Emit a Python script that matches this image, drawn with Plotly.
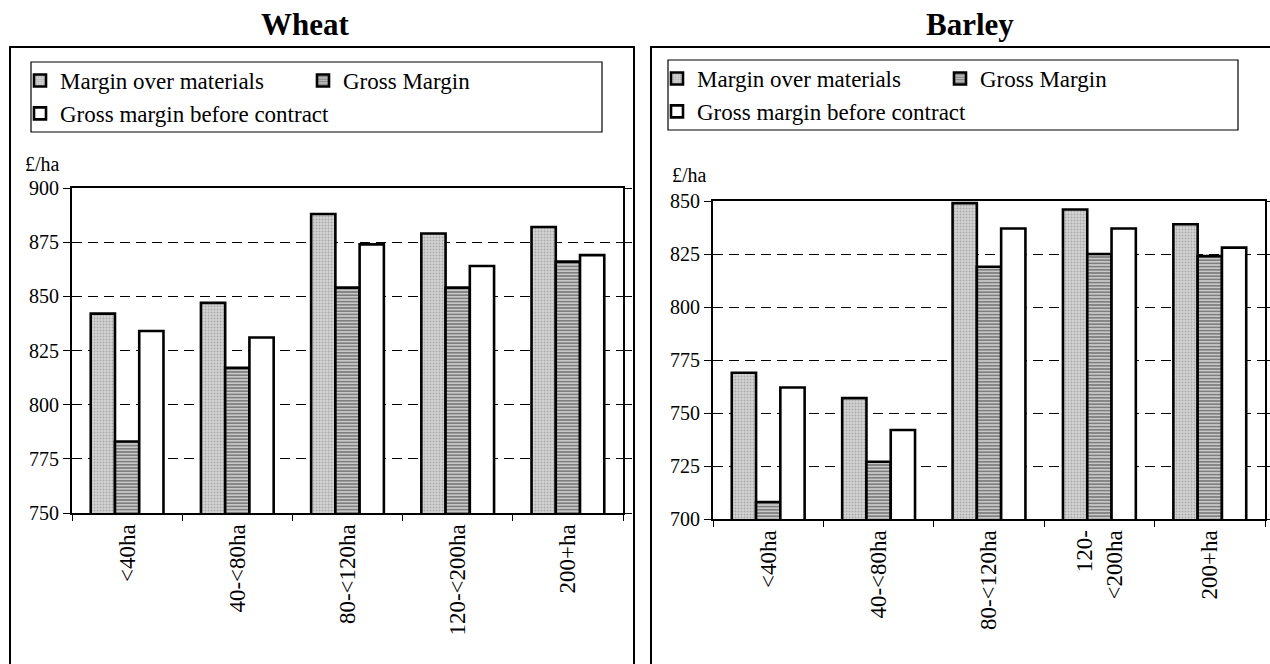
import plotly.graph_objects as go

# Farm size bands (categories shared by both crops)
size_bands = ["<40ha", "40-<80ha", "80-<120ha", "120-<200ha", "200+ha"]
wheat_tick_labels = ["<40ha", "40-<80ha", "80-<120ha", "120-<200ha", "200+ha"]
barley_tick_labels = ["<40ha", "40-<80ha", "80-<120ha", "120-<br><200ha", "200+ha"]

# Wheat, £/ha
wheat_margin_over_materials = [842, 847, 888, 879, 882]
wheat_gross_margin = [783, 817, 854, 854, 866]
wheat_gm_before_contract = [834, 831, 874, 864, 869]

# Barley, £/ha
barley_margin_over_materials = [769, 757, 849, 846, 839]
barley_gross_margin = [708, 727, 819, 825, 824]
barley_gm_before_contract = [762, 742, 837, 837, 828]

wheat_yticks = [750, 775, 800, 825, 850, 875, 900]
barley_yticks = [700, 725, 750, 775, 800, 825, 850]

W, H = 1270, 664
SERIF = "Liberation Serif, Times New Roman, serif"


def px(x):
    return x / W


def py(y):
    return 1 - y / H


series_styles = {
    "Margin over materials": dict(
        color="#cccccc",
        pattern=dict(shape=".", fgcolor="#7a7a7a", bgcolor="#d4d4d4", size=3, solidity=0.3),
    ),
    "Gross Margin": dict(
        color="#eeeeee",
        pattern=dict(shape="-", fgcolor="#0a0a0a", bgcolor="#f2f2f2", size=3.2, solidity=0.68),
    ),
    "Gross margin before contract": dict(color="white"),
}
# two legend columns: first column holds the 1st and 3rd series
legend_groups = {
    "Margin over materials": "a",
    "Gross Margin": "b",
    "Gross margin before contract": "a",
}

fig = go.Figure()


def add_crop(values, xaxis, yaxis, legend, prefix):
    names = ["Margin over materials", "Gross Margin", "Gross margin before contract"]
    for name, vals in zip(names, values):
        style = series_styles[name]
        marker = dict(color=style["color"], line=dict(color="black", width=2.6))
        if "pattern" in style:
            marker["pattern"] = style["pattern"]
        fig.add_trace(
            go.Bar(
                x=size_bands,
                y=vals,
                name=name,
                marker=marker,
                xaxis=xaxis,
                yaxis=yaxis,
                legend=legend,
                legendgroup=prefix + legend_groups[name],
                legendwidth=238,
            )
        )


add_crop(
    [wheat_margin_over_materials, wheat_gross_margin, wheat_gm_before_contract],
    "x", "y", "legend", "w",
)
add_crop(
    [barley_margin_over_materials, barley_gross_margin, barley_gm_before_contract],
    "x2", "y2", "legend2", "b",
)

xaxis_common = dict(
    type="category",
    showline=True,
    linecolor="black",
    linewidth=2,
    mirror=True,
    ticks="outside",
    tickson="boundaries",
    ticklen=6,
    tickcolor="black",
    tickangle=-90,
    ticklabelstandoff=0,
    tickfont=dict(family=SERIF, size=23, color="black"),
    showgrid=False,
    automargin=False,
    fixedrange=True,
)
yaxis_common = dict(
    showline=True,
    linecolor="black",
    linewidth=2,
    mirror="ticks",
    ticks="outside",
    ticklen=7,
    tickcolor="black",
    tickfont=dict(family=SERIF, size=20, color="black"),
    showgrid=True,
    gridcolor="black",
    gridwidth=1.2,
    griddash="10px,6px",
    zeroline=False,
    automargin=False,
    fixedrange=True,
)
legend_common = dict(
    orientation="h",
    traceorder="grouped",
    xanchor="left",
    yanchor="top",
    bgcolor="rgba(0,0,0,0)",
    borderwidth=0,
    font=dict(family=SERIF, size=23, color="black"),
)

fig.update_layout(
    width=W,
    height=H,
    margin=dict(l=0, r=0, t=0, b=0, autoexpand=False),
    paper_bgcolor="white",
    plot_bgcolor="white",
    barmode="group",
    bargap=0.34,
    bargroupgap=0,
    xaxis=dict(
        xaxis_common,
        domain=[px(72), px(623)],
        anchor="y",
        tickvals=size_bands,
        ticktext=wheat_tick_labels,
    ),
    yaxis=dict(
        yaxis_common,
        domain=[py(513), py(188)],
        anchor="x",
        range=[750, 900],
        tickvals=wheat_yticks,
    ),
    xaxis2=dict(
        xaxis_common,
        domain=[px(713), px(1265)],
        anchor="y2",
        tickvals=size_bands,
        ticktext=barley_tick_labels,
    ),
    yaxis2=dict(
        yaxis_common,
        domain=[py(519), py(201)],
        anchor="x2",
        range=[700, 850],
        tickvals=barley_yticks,
    ),
    legend=dict(legend_common, x=px(20), y=py(59)),
    legend2=dict(legend_common, x=px(657), y=py(57)),
)

# Panel frames and legend boxes
frames = [
    dict(x0=10, x1=634, y0=47, y1=700, w=2),
    dict(x0=651, x1=1300, y0=47, y1=700, w=2),
    dict(x0=31, x1=602, y0=62, y1=132, w=1.2),
    dict(x0=668, x1=1238, y0=60, y1=130, w=1.2),
]
for f in frames:
    fig.add_shape(
        type="rect",
        xref="paper",
        yref="paper",
        x0=px(f["x0"]),
        x1=px(f["x1"]),
        y0=py(f["y1"]),
        y1=py(f["y0"]),
        line=dict(color="black", width=f["w"]),
        fillcolor="rgba(0,0,0,0)",
        layer="above",
    )

# Panel titles and unit labels
texts = [
    dict(text="<b>Wheat</b>", x=305, y=24, size=31),
    dict(text="<b>Barley</b>", x=970, y=24, size=31),
    dict(text="£/ha", x=42, y=164, size=20),
    dict(text="£/ha", x=689, y=175, size=20),
]
for t in texts:
    fig.add_annotation(
        text=t["text"],
        x=px(t["x"]),
        y=py(t["y"]),
        xref="paper",
        yref="paper",
        xanchor="center",
        yanchor="middle",
        showarrow=False,
        font=dict(family=SERIF, size=t["size"], color="black"),
    )

fig.write_html("out.html")
